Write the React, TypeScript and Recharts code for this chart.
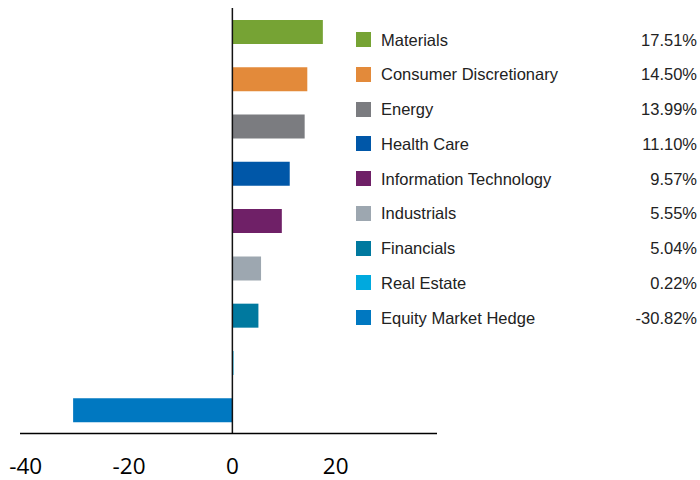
import React from 'react';
import { BarChart, Bar, XAxis, YAxis, Cell, ReferenceLine } from 'recharts';

const categories = [
  'Materials',
  'Consumer Discretionary',
  'Energy',
  'Health Care',
  'Information Technology',
  'Industrials',
  'Financials',
  'Real Estate',
  'Equity Market Hedge',
];
const values = [17.51, 14.5, 13.99, 11.1, 9.57, 5.55, 5.04, 0.22, -30.82];
const colors = ['#76A334', '#E38A3A', '#7B7C80', '#0057A8', '#6F2067', '#9DA7B0', '#00799F', '#00A9DE', '#0078C1'];
const xTicks = [-40, -20, 0, 20];

const data = categories.map((name, i) => ({ name, value: values[i] }));

const legendFont = '"Liberation Sans", Arial, sans-serif';

export default function App() {
  return (
    <div style={{ position: 'absolute', left: 0, top: 0, width: 700, height: 480, background: '#fff' }}>
      <BarChart
        width={700}
        height={480}
        data={data}
        layout="vertical"
        margin={{ top: 8, right: 263, bottom: 0, left: 20 }}
      >
        <XAxis
          type="number"
          domain={[-41.1, 39.6]}
          ticks={xTicks}
          allowDataOverflow
          height={46.5}
          axisLine={{ stroke: '#000', strokeWidth: 1.5 }}
          tickLine={false}
          tickMargin={19}
          tick={{ fontSize: 22.5, fill: '#000', fontFamily: '"Open Sans", sans-serif' }}
        />
        <YAxis type="category" dataKey="name" hide width={0} />
        <Bar dataKey="value" barSize={24} isAnimationActive={false}>
          {data.map((d, i) => (
            <Cell key={d.name} fill={colors[i]} />
          ))}
        </Bar>
        <ReferenceLine x={0} stroke="#111" strokeWidth={1.5} />
      </BarChart>
      {categories.map((name, i) => {
        const cy = 39.5 + i * 34.75;
        return (
          <div key={name}>
            <div
              style={{
                position: 'absolute',
                left: 356,
                top: cy - 7.5,
                width: 15,
                height: 15,
                background: colors[i],
              }}
            />
            <div
              style={{
                position: 'absolute',
                left: 381,
                top: cy - 11,
                height: 22,
                lineHeight: '22px',
                fontSize: 16.5,
                fontFamily: legendFont,
                color: '#222',
                whiteSpace: 'nowrap',
              }}
            >
              {name}
            </div>
            <div
              style={{
                position: 'absolute',
                right: 700 - 697,
                top: cy - 11,
                height: 22,
                lineHeight: '22px',
                fontSize: 16.5,
                fontFamily: legendFont,
                color: '#222',
                whiteSpace: 'nowrap',
                textAlign: 'right',
              }}
            >
              {values[i].toFixed(2) + '%'}
            </div>
          </div>
        );
      })}
    </div>
  );
}
